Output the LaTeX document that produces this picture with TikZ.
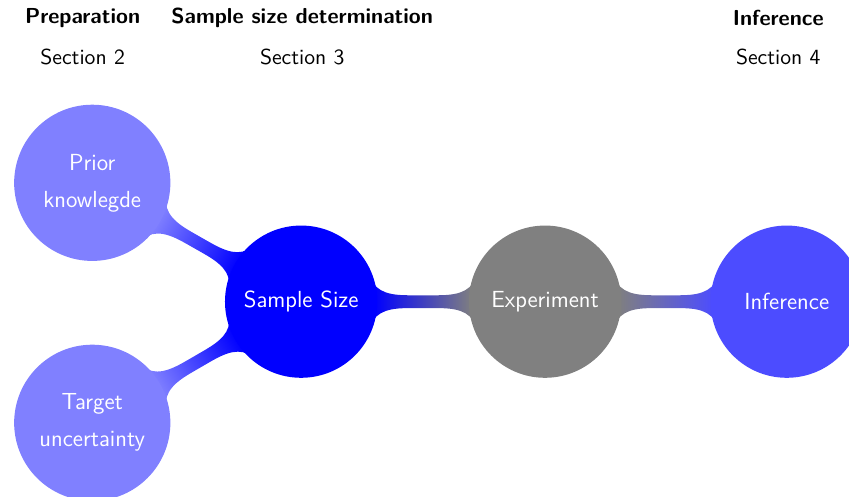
\documentclass[tikz,border=0pt]{standalone}
\usetikzlibrary{mindmap,backgrounds}

\begin{document}
\begin{tikzpicture}[
    topic/.style={circle, minimum size=2.69cm, inner sep=0pt, outer sep=-1.5pt,
      text width=2.5cm, align=center, text=white,
      font=\sffamily\fontsize{11.7}{18.6}\selectfont},
    subtopic/.style={topic, minimum size=2.76cm, fill=blue!50},
    header/.style={font=\sffamily\bfseries\fontsize{10.9}{13}\selectfont},
    secnote/.style={font=\sffamily\fontsize{10.9}{13}\selectfont}]
  \useasboundingbox (0,0) rectangle (15,-8.78);

  % column headings
  \node[header] (hprep) at (1.46,-0.32) {Preparation};
  \node[secnote] (sprep) at (1.46,-1.01) {Section~2};
  \node[header] (hsize) at (5.34,-0.32) {Sample size determination};
  \node[secnote] (ssize) at (5.34,-1.01) {Section~3};
  \node[header] (hinf) at (13.75,-0.32) {Inference};
  \node[secnote] (sinf) at (13.75,-1.01) {Section~4};

  % concepts
  \node[subtopic] (prior) at (1.63,-3.23) {Prior\\knowlegde};
  \node[subtopic] (target) at (1.63,-7.47) {Target\\uncertainty};
  \node[topic, fill=blue] (size) at (5.32,-5.33) {Sample Size};
  \node[topic, fill=gray] (exp) at (9.63,-5.33) {Experiment};
  \node[topic, fill=blue!70] (inf) at (13.90,-5.33) {Inference};

  % connection bars, tucked under the circles
  \begin{pgfonlayer}{background}
    \path (prior) to[circle connection bar switch color=from (blue!50) to (blue)] (size);
    \path (target) to[circle connection bar switch color=from (blue!50) to (blue)] (size);
    \path (size) to[circle connection bar switch color=from (blue) to (gray)] (exp);
    \path (exp) to[circle connection bar switch color=from (gray) to (blue!70)] (inf);
  \end{pgfonlayer}
\end{tikzpicture}
\end{document}
